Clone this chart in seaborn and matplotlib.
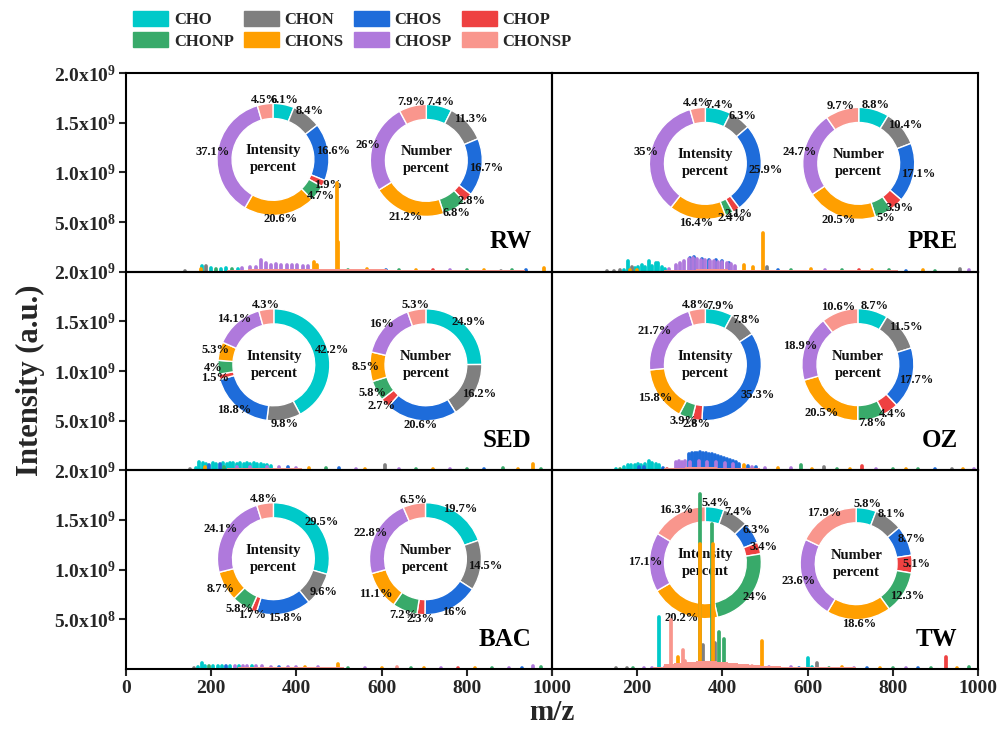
import math
import matplotlib
matplotlib.use("Agg")
import matplotlib.pyplot as plt
import seaborn as sns
from matplotlib.patches import Patch

# ---------------- data ----------------
CLASSES = ["CHO", "CHON", "CHOS", "CHOP", "CHONP", "CHONS", "CHOSP", "CHONSP"]
HEX = ["#00C9C9", "#7F7F7F", "#1E6CDA", "#EE4141", "#38AA6A", "#FF9F00", "#AF79DC", "#F9968D"]
SAMPLES = ["RW", "PRE", "SED", "OZ", "BAC", "TW"]

# donut percentages (order of CLASSES)
RW_int = [6.1, 8.4, 16.6, 1.9, 4.7, 20.6, 37.1, 4.5]
RW_num = [7.4, 11.3, 16.7, 2.8, 6.8, 21.2, 26, 7.9]
PRE_int = [7.4, 6.3, 25.9, 2.1, 2.4, 16.4, 35, 4.4]
PRE_num = [8.8, 10.4, 17.1, 3.9, 5, 20.5, 24.7, 9.7]
SED_int = [42.2, 9.8, 18.8, 1.5, 4, 5.3, 14.1, 4.3]
SED_num = [24.9, 16.2, 20.6, 2.7, 5.8, 8.5, 16, 5.3]
OZ_int = [7.9, 7.8, 35.3, 2.8, 3.9, 15.8, 21.7, 4.8]
OZ_num = [8.7, 11.5, 17.7, 4.4, 7.8, 20.5, 18.9, 10.6]
BAC_int = [29.5, 9.6, 15.8, 1.7, 5.8, 8.7, 24.1, 4.8]
BAC_num = [19.7, 14.5, 16, 2.3, 7.2, 11.1, 22.8, 6.5]
TW_int = [5.4, 7.4, 6.3, 3.4, 24, 20.2, 17.1, 16.3]
TW_num = [5.8, 8.1, 8.7, 5.1, 12.3, 18.6, 23.6, 17.9]

# spectrum peaks: (m/z, intensity in 1e8, class index)
RW_peaks = [(139, 0.08, 1), (175, 0.3, 5), (178, 0.55, 0), (188, 0.6, 1), (200, 0.4, 0), (212, 0.3, 4),
            (222, 0.25, 0), (235, 0.35, 0), (248, 0.3, 4), (262, 0.25, 0), (272, 0.4, 6), (290, 0.45, 6),
            (305, 0.5, 6), (317, 1.2, 6), (328, 0.9, 6), (340, 0.7, 6), (352, 0.75, 6), (365, 0.7, 6),
            (378, 0.65, 6), (390, 0.7, 6), (402, 0.65, 6), (415, 0.6, 6), (428, 0.55, 6), (442, 0.95, 5),
            (448, 0.7, 5), (495, 8.9, 5), (498, 3.0, 5), (520, 0.15, 4), (565, 0.25, 5), (610, 0.15, 2),
            (640, 0.2, 4), (680, 0.15, 5), (720, 0.18, 3), (760, 0.12, 6), (800, 0.12, 4), (840, 0.15, 5),
            (880, 0.1, 1), (905, 0.15, 4), (940, 0.12, 2), (982, 0.34, 5)]
PRE_peaks = [(129, 0.1, 1), (145, 0.1, 1), (160, 0.12, 1), (170, 0.15, 0), (178, 1.1, 0), (188, 0.5, 1),
             (196, 0.4, 0), (203, 0.45, 0), (211, 0.7, 0), (219, 0.5, 0), (227, 1.08, 0), (235, 0.6, 0),
             (243, 0.84, 0), (249, 0.9, 0), (258, 0.5, 0), (266, 0.3, 0), (182, 0.2, 5), (200, 0.15, 5),
             (275, 0.3, 6), (290, 0.7, 6), (300, 0.9, 6), (310, 1.1, 6), (321, 1.3, 6), (330, 1.35, 6),
             (340, 1.25, 6), (350, 1.2, 6), (360, 1.15, 6), (370, 1.1, 6), (380, 1.05, 6), (390, 1.0, 6),
             (400, 0.95, 6), (410, 0.85, 6), (420, 0.75, 6), (430, 0.6, 6), (324, 1.4, 2), (333, 1.45, 2),
             (352, 1.3, 2), (368, 1.2, 2), (384, 1.15, 2), (400, 1.05, 2), (415, 0.9, 2), (450, 0.67, 5),
             (473, 0.45, 5), (495, 3.9, 5), (505, 0.5, 1), (530, 0.15, 2), (560, 0.15, 4), (609, 0.3, 5),
             (640, 0.15, 6), (680, 0.12, 4), (720, 0.15, 3), (750, 0.12, 5), (790, 0.12, 4), (830, 0.1, 2),
             (870, 0.12, 5), (900, 0.1, 4), (958, 0.25, 1), (980, 0.12, 6)]
SED_peaks = [(150, 0.1, 1), (165, 0.2, 0), (172, 0.88, 0), (180, 0.7, 0), (188, 0.6, 0), (196, 0.55, 2),
             (204, 0.75, 0), (212, 0.65, 0), (220, 0.6, 2), (228, 0.75, 0), (236, 0.65, 0), (244, 0.75, 0),
             (252, 0.75, 0), (260, 0.65, 0), (268, 0.75, 0), (276, 0.65, 0), (284, 0.75, 0), (292, 0.65, 0),
             (300, 0.7, 0), (308, 0.65, 0), (316, 0.6, 0), (324, 0.55, 0), (332, 0.5, 0), (340, 0.45, 0),
             (185, 0.3, 5), (230, 0.3, 4), (260, 0.35, 6), (290, 0.3, 6), (330, 0.3, 6), (360, 0.3, 6),
             (380, 0.3, 2), (400, 0.25, 6), (430, 0.2, 5), (470, 0.2, 4), (500, 0.2, 2), (540, 0.15, 6),
             (560, 0.15, 5), (608, 0.5, 1), (640, 0.15, 6), (680, 0.12, 4), (720, 0.12, 5), (760, 0.15, 6),
             (800, 0.1, 4), (840, 0.12, 2), (886, 0.2, 4), (920, 0.12, 5), (956, 0.67, 5), (975, 0.15, 4)]
OZ_peaks = [(150, 0.1, 0), (160, 0.1, 4), (170, 0.3, 0), (178, 0.5, 0), (186, 0.55, 0), (194, 0.5, 0),
            (202, 0.6, 0), (210, 0.55, 0), (218, 0.6, 0), (227, 0.95, 0), (235, 0.7, 0), (243, 0.6, 0),
            (251, 0.5, 0), (205, 0.3, 2), (215, 0.35, 2), (260, 0.2, 2), (270, 0.15, 3), (290, 0.8, 6),
            (298, 0.9, 6), (305, 0.85, 6), (313, 0.9, 6), (321, 1.6, 2), (328, 1.7, 2), (335, 1.75, 2),
            (341, 1.7, 2), (348, 1.85, 2), (355, 1.75, 2), (362, 1.7, 2), (369, 1.65, 2), (376, 1.6, 2),
            (383, 1.5, 2), (390, 1.45, 2), (397, 1.35, 2), (404, 1.2, 2), (411, 1.1, 2), (418, 1.0, 2),
            (425, 0.9, 2), (432, 0.8, 2), (440, 0.65, 2), (325, 0.8, 6), (345, 0.9, 6), (365, 0.85, 6),
            (385, 0.8, 6), (405, 0.7, 6), (425, 0.6, 6), (450, 0.5, 5), (460, 0.4, 2), (470, 0.35, 6),
            (480, 0.3, 2), (500, 0.25, 6), (530, 0.2, 5), (560, 0.2, 6), (585, 0.5, 4), (610, 0.15, 5),
            (638, 0.34, 1), (670, 0.15, 4), (700, 0.15, 5), (728, 0.44, 3), (760, 0.15, 6), (800, 0.12, 4),
            (830, 0.12, 5), (860, 0.15, 4), (900, 0.1, 2), (940, 0.15, 1), (965, 0.12, 5), (990, 0.12, 6)]
BAC_peaks = [(160, 0.1, 1), (170, 0.25, 0), (178, 0.57, 0), (186, 0.35, 0), (195, 0.3, 4), (205, 0.35, 0),
             (215, 0.3, 0), (225, 0.35, 0), (235, 0.3, 2), (245, 0.35, 0), (255, 0.3, 6), (265, 0.35, 0),
             (275, 0.3, 6), (285, 0.35, 6), (295, 0.3, 0), (305, 0.3, 6), (320, 0.3, 6), (340, 0.25, 6),
             (360, 0.25, 2), (380, 0.25, 6), (400, 0.2, 6), (420, 0.2, 5), (450, 0.2, 6), (498, 0.5, 5),
             (520, 0.15, 4), (560, 0.15, 6), (600, 0.15, 5), (635, 0.25, 7), (670, 0.12, 4), (700, 0.15, 5),
             (740, 0.12, 6), (780, 0.12, 3), (820, 0.15, 5), (860, 0.12, 4), (900, 0.15, 6), (930, 0.12, 2),
             (956, 0.3, 6), (975, 0.2, 4)]
TW_peaks = [(130, 0.05, 0), (150, 0.08, 1), (175, 0.12, 1), (190, 0.1, 4), (215, 0.12, 6), (235, 0.15, 6),
            (252, 5.2, 0), (265, 0.2, 6), (280, 4.9, 7), (296, 1.2, 5), (307, 1.9, 7), (312, 0.8, 7),
            (325, 0.3, 6), (335, 0.4, 7), (340, 0.3, 1), (347, 17.6, 4), (348, 12.6, 5), (354, 2.4, 1),
            (362, 0.6, 7), (376, 14.6, 4), (378, 12.6, 5), (382, 2.6, 1), (392, 3.7, 4), (404, 3.0, 4),
            (415, 0.4, 7), (430, 0.45, 6), (445, 0.35, 7), (460, 0.3, 6), (470, 0.3, 7), (493, 2.8, 5),
            (510, 0.2, 6), (530, 0.15, 5), (560, 0.2, 6), (580, 0.15, 2), (601, 1.1, 0), (610, 0.25, 0),
            (621, 0.6, 1), (650, 0.15, 4), (680, 0.2, 5), (710, 0.15, 6), (740, 0.12, 2), (770, 0.15, 5),
            (800, 0.15, 4), (830, 0.12, 6), (860, 0.12, 2), (890, 0.15, 4), (925, 1.24, 3), (950, 0.15, 5),
            (980, 0.2, 4)]

# dense low-level CHONSP baseline (m/z bins, intensity in 1e8)
BASE_MZ = [250, 275, 300, 325, 350, 375, 400, 425, 450, 475, 500, 525, 550, 575, 600, 625,
           650, 675, 700, 725, 750, 775, 800, 825, 850, 875, 900, 925, 950, 975, 1000]
RW_base = [0.15, 0.2, 0.25, 0.28, 0.3, 0.3, 0.3, 0.3, 0.28, 0.28, 0.25, 0.25, 0.25, 0.22, 0.22, 0.2,
           0.2, 0.2, 0.18, 0.18, 0.18, 0.15, 0.15, 0.15, 0.15, 0.12, 0.12, 0.12, 0.1, 0.1, 0.1]
PRE_base = [0.1, 0.15, 0.2, 0.2, 0.22, 0.22, 0.22, 0.2, 0.2, 0.2, 0.18, 0.18, 0.18, 0.15, 0.15, 0.15,
            0.15, 0.15, 0.12, 0.12, 0.12, 0.12, 0.12, 0.1, 0.1, 0.1, 0.1, 0.1, 0.1, 0.1, 0.1]
SED_base = [0.2, 0.2, 0.22, 0.22, 0.2, 0.2, 0.2, 0.18, 0.18, 0.15, 0.15, 0.15, 0.15, 0.12, 0.12, 0.12,
            0.12, 0.12, 0.1, 0.1, 0.1, 0.1, 0.1, 0.1, 0.1, 0.1, 0.1, 0.1, 0.1, 0.1, 0.1]
OZ_base = [0.15, 0.2, 0.25, 0.3, 0.3, 0.3, 0.28, 0.25, 0.22, 0.2, 0.18, 0.18, 0.15, 0.15, 0.15, 0.12,
           0.12, 0.12, 0.12, 0.1, 0.1, 0.1, 0.1, 0.1, 0.1, 0.1, 0.1, 0.1, 0.1, 0.1, 0.1]
BAC_base = [0.15, 0.2, 0.2, 0.22, 0.22, 0.2, 0.2, 0.2, 0.18, 0.18, 0.18, 0.15, 0.15, 0.15, 0.15, 0.15,
            0.15, 0.12, 0.12, 0.12, 0.12, 0.12, 0.12, 0.1, 0.1, 0.1, 0.1, 0.1, 0.1, 0.1, 0.1]
TW_base = [0.2, 0.5, 0.6, 0.7, 0.8, 0.8, 0.7, 0.6, 0.5, 0.4, 0.35, 0.3, 0.25, 0.25, 0.2, 0.2,
           0.2, 0.18, 0.18, 0.15, 0.15, 0.15, 0.15, 0.12, 0.12, 0.12, 0.12, 0.1, 0.1, 0.1, 0.1]

YTICKS = [5e8, 1e9, 1.5e9, 2e9]
YTICK_LABELS = [r"5.0x$10^{8}$", r"1.0x$10^{9}$", r"1.5x$10^{9}$", r"2.0x$10^{9}$"]
XTICKS = [0, 200, 400, 600, 800, 1000]

# ---------------- layout constants ----------------
W_PX, H_PX = 998, 729
PANEL_X = [126, 552]
PANEL_W = 426
ROW_TOP = [73, 271.67, 470.33]
ROW_H = 198.67
R_PX = 56
DONUT_POS = {
    "RW": [(0.345, 0.565), (0.705, 0.56)],
    "PRE": [(0.36, 0.545), (0.72, 0.545)],
    "SED": [(0.347, 0.531), (0.704, 0.531)],
    "OZ": [(0.36, 0.532), (0.718, 0.532)],
    "BAC": [(0.346, 0.555), (0.703, 0.555)],
    "TW": [(0.36, 0.535), (0.714, 0.53)],
}

sns.set_theme(style="ticks")
plt.rcParams["font.family"] = ["Liberation Serif", "DejaVu Serif"]
plt.rcParams["font.weight"] = "bold"
plt.rcParams["mathtext.fontset"] = "custom"
plt.rcParams["mathtext.rm"] = "Liberation Serif:bold"
plt.rcParams["mathtext.it"] = "Liberation Serif:bold"
plt.rcParams["mathtext.bf"] = "Liberation Serif:bold"
palette = sns.color_palette(HEX)

fig = plt.figure(figsize=(W_PX / 100, H_PX / 100), dpi=100)
fig.patch.set_facecolor("white")

int_data = {"RW": RW_int, "PRE": PRE_int, "SED": SED_int, "OZ": OZ_int, "BAC": BAC_int, "TW": TW_int}
num_data = {"RW": RW_num, "PRE": PRE_num, "SED": SED_num, "OZ": OZ_num, "BAC": BAC_num, "TW": TW_num}
peaks = {"RW": RW_peaks, "PRE": PRE_peaks, "SED": SED_peaks, "OZ": OZ_peaks, "BAC": BAC_peaks, "TW": TW_peaks}
bases = {"RW": RW_base, "PRE": PRE_base, "SED": SED_base, "OZ": OZ_base, "BAC": BAC_base, "TW": TW_base}


def fmt(v):
    return f"{v:g}%"


def draw_donut(rect_px, vals, title):
    x0, y0 = rect_px
    dax = fig.add_axes([(x0 - R_PX) / W_PX, 1 - (y0 + R_PX) / H_PX, 2 * R_PX / W_PX, 2 * R_PX / H_PX], zorder=1)
    wedges, _ = dax.pie(vals, colors=palette, startangle=90, counterclock=False, radius=1.0,
                        wedgeprops=dict(width=0.27, edgecolor="white", linewidth=1.0))
    for w in wedges:
        w.set_clip_on(False)
    dax.set_xlim(-1, 1)
    dax.set_ylim(-1, 1)
    dax.set_aspect("equal")
    dax.axis("off")
    total = sum(vals)
    start = 0.0
    for v in vals:
        mid = start + v / 2
        ang = math.radians(90 - 360 * mid / total)
        rr = 1.08
        dax.text(rr * math.cos(ang), rr * math.sin(ang), fmt(v), ha="center", va="center",
                 fontsize=9, fontweight="bold", color="#111111", clip_on=False, zorder=5)
        start += v
    dax.text(0, 0, title, ha="center", va="center", fontsize=10.5, fontweight="bold",
             linespacing=1.4, color="#111111")


for i, name in enumerate(SAMPLES):
    row, col = divmod(i, 2)
    left = PANEL_X[col]
    top = ROW_TOP[row]
    ax = fig.add_axes([left / W_PX, 1 - (top + ROW_H) / H_PX, PANEL_W / W_PX, ROW_H / H_PX], zorder=3)
    ax.set_facecolor("none")
    # spectrum sticks, one series per class (later classes drawn on top)
    pk = peaks[name]
    for ci in range(len(CLASSES)):
        xs = [p[0] for p in pk if p[2] == ci]
        hs = [p[1] * 1e8 for p in pk if p[2] == ci]
        if xs:
            lc = ax.vlines(xs, 0, hs, colors=[palette[ci]], linewidth=2.7)
            lc.set_capstyle("round")
    ax.bar(BASE_MZ, [b * 1e8 for b in bases[name]], width=25, color=palette[7], linewidth=0, zorder=2.5)
    ax.set_xlim(0, 1000)
    ax.set_ylim(0, 2e9)
    for s in ax.spines.values():
        s.set_linewidth(1.5)
        s.set_color("black")
    ax.set_yticks(YTICKS)
    if col == 0:
        ax.set_yticklabels(YTICK_LABELS, fontsize=14, fontweight="bold")
        ax.tick_params(axis="y", direction="out", length=5, width=1.5, left=True, pad=2)
    else:
        ax.tick_params(axis="y", left=False, labelleft=False)
    ax.set_xticks(XTICKS)
    if row == 2:
        labels = [str(t) for t in XTICKS]
        if col == 1:
            labels[0] = ""
        ax.set_xticklabels(labels, fontsize=14, fontweight="bold")
        ax.tick_params(axis="x", direction="out", length=5, width=1.5, bottom=True, pad=3)
    else:
        ax.tick_params(axis="x", bottom=False, labelbottom=False)
    ax.text(0.952, 0.15, name, transform=ax.transAxes, ha="right", va="center",
            fontsize=18, fontweight="bold", color="black")

    bw, bh = PANEL_W, ROW_H
    (c1x, c1y), (c2x, c2y) = DONUT_POS[name]
    draw_donut((left + c1x * bw, top + (1 - c1y) * bh), int_data[name], "Intensity\npercent")
    draw_donut((left + c2x * bw, top + (1 - c2y) * bh), num_data[name], "Number\npercent")

fig.text(30 / W_PX, 1 - 380 / H_PX, "Intensity (a.u.)", rotation=90, ha="center", va="center",
         fontsize=22, fontweight="bold")
fig.text(552 / W_PX, 1 - 713 / H_PX, "m/z", ha="center", va="center", fontsize=21, fontweight="bold")

order = [0, 4, 1, 5, 2, 6, 3, 7]
handles = [Patch(facecolor=palette[k], edgecolor=palette[k], label=CLASSES[k]) for k in order]
fig.legend(handles=handles, ncol=4, loc="upper left", bbox_to_anchor=(133 / W_PX, 1 - 11 / H_PX),
           frameon=False, handlelength=2.1, handleheight=1.0, handletextpad=0.35,
           columnspacing=0.6, labelspacing=0.25, borderaxespad=0, borderpad=0,
           prop={"weight": "bold", "size": 12})

fig.savefig("out.png", dpi=100, facecolor="white")
